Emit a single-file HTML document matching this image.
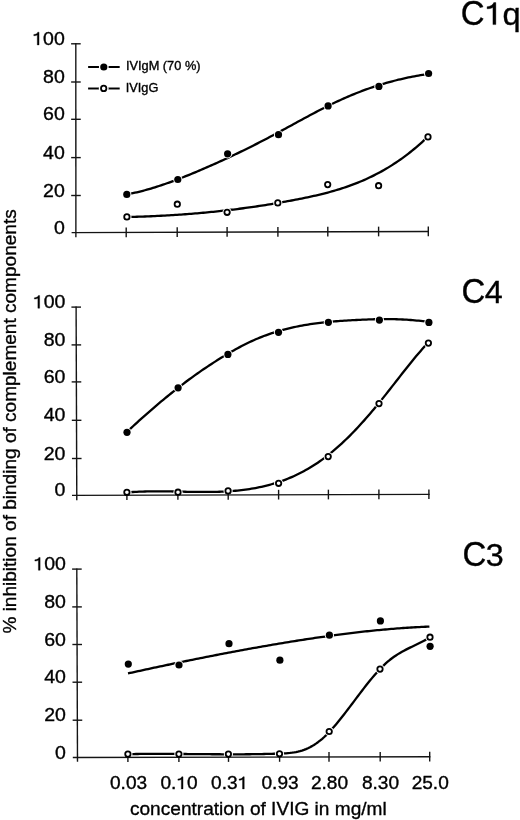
<!DOCTYPE html>
<html><head><meta charset="utf-8"><style>
html,body{margin:0;padding:0;background:#fff;}
body{width:520px;height:820px;overflow:hidden;}
svg{display:block;font-family:"Liberation Sans", sans-serif;will-change:transform;}
text{fill:#000;stroke:#000;stroke-width:0.35px;}
.one{fill:#000;stroke:#000;stroke-width:0.35px;vector-effect:non-scaling-stroke;}
</style></head><body>
<svg width="520" height="820" viewBox="0 0 520 820">
<path d="M126.80 194.32 L128.81 193.95 L130.82 193.56 L132.83 193.15 L134.85 192.71 L136.86 192.26 L138.87 191.78 L140.88 191.29 L142.89 190.77 L144.90 190.24 L146.91 189.69 L148.92 189.12 L150.94 188.53 L152.95 187.93 L154.96 187.31 L156.97 186.68 L158.98 186.03 L160.99 185.36 L163.00 184.68 L165.02 183.99 L167.03 183.28 L169.04 182.57 L171.05 181.84 L173.06 181.10 L175.07 180.34 L177.08 179.58 L179.09 178.81 L181.11 178.02 L183.12 177.23 L185.13 176.43 L187.14 175.62 L189.15 174.81 L191.16 173.99 L193.17 173.16 L195.19 172.32 L197.20 171.48 L199.21 170.63 L201.22 169.78 L203.23 168.92 L205.24 168.05 L207.25 167.18 L209.26 166.30 L211.28 165.41 L213.29 164.52 L215.30 163.63 L217.31 162.72 L219.32 161.81 L221.33 160.89 L223.34 159.97 L225.36 159.04 L227.37 158.11 L229.38 157.17 L231.39 156.22 L233.40 155.27 L235.41 154.31 L237.42 153.35 L239.43 152.37 L241.45 151.40 L243.46 150.41 L245.47 149.43 L247.48 148.43 L249.49 147.43 L251.50 146.42 L253.51 145.41 L255.53 144.39 L257.54 143.37 L259.55 142.34 L261.56 141.30 L263.57 140.26 L265.58 139.21 L267.59 138.16 L269.60 137.10 L271.62 136.03 L273.63 134.96 L275.64 133.88 L277.65 132.80 L279.66 131.72 L281.67 130.63 L283.68 129.53 L285.70 128.44 L287.71 127.34 L289.72 126.25 L291.73 125.15 L293.74 124.05 L295.75 122.95 L297.76 121.85 L299.77 120.76 L301.79 119.67 L303.80 118.58 L305.81 117.49 L307.82 116.41 L309.83 115.33 L311.84 114.26 L313.85 113.20 L315.87 112.14 L317.88 111.08 L319.89 110.04 L321.90 109.01 L323.91 107.98 L325.92 106.96 L327.93 105.96 L329.94 104.96 L331.96 103.98 L333.97 103.01 L335.98 102.05 L337.99 101.10 L340.00 100.17 L342.01 99.26 L344.02 98.35 L346.04 97.47 L348.05 96.60 L350.06 95.74 L352.07 94.90 L354.08 94.08 L356.09 93.27 L358.10 92.47 L360.11 91.70 L362.13 90.93 L364.14 90.18 L366.15 89.45 L368.16 88.73 L370.17 88.03 L372.18 87.34 L374.19 86.67 L376.21 86.01 L378.22 85.37 L380.23 84.74 L382.24 84.13 L384.25 83.53 L386.26 82.94 L388.27 82.37 L390.28 81.82 L392.30 81.28 L394.31 80.75 L396.32 80.24 L398.33 79.74 L400.34 79.26 L402.35 78.79 L404.36 78.34 L406.38 77.90 L408.39 77.48 L410.40 77.06 L412.41 76.67 L414.42 76.28 L416.43 75.92 L418.44 75.56 L420.45 75.22 L422.47 74.89 L424.48 74.58 L426.49 74.28 L428.50 74.00" fill="none" stroke="#000" stroke-width="2.30" stroke-linecap="butt" stroke-linejoin="round"/>
<path d="M126.90 217.05 L128.91 217.00 L130.92 216.95 L132.93 216.89 L134.93 216.83 L136.94 216.77 L138.95 216.70 L140.96 216.64 L142.97 216.56 L144.98 216.49 L146.99 216.41 L149.00 216.33 L151.00 216.24 L153.01 216.15 L155.02 216.06 L157.03 215.96 L159.04 215.86 L161.05 215.76 L163.06 215.66 L165.06 215.54 L167.07 215.43 L169.08 215.31 L171.09 215.19 L173.10 215.07 L175.11 214.94 L177.12 214.81 L179.13 214.67 L181.13 214.53 L183.14 214.39 L185.15 214.24 L187.16 214.09 L189.17 213.93 L191.18 213.78 L193.19 213.61 L195.19 213.45 L197.20 213.28 L199.21 213.10 L201.22 212.92 L203.23 212.74 L205.24 212.56 L207.25 212.37 L209.26 212.17 L211.26 211.97 L213.27 211.77 L215.28 211.56 L217.29 211.35 L219.30 211.14 L221.31 210.92 L223.32 210.70 L225.32 210.47 L227.33 210.24 L229.34 210.00 L231.35 209.76 L233.36 209.52 L235.37 209.27 L237.38 209.02 L239.39 208.76 L241.39 208.50 L243.40 208.24 L245.41 207.96 L247.42 207.69 L249.43 207.41 L251.44 207.13 L253.45 206.84 L255.45 206.55 L257.46 206.25 L259.47 205.95 L261.48 205.64 L263.49 205.33 L265.50 205.02 L267.51 204.70 L269.52 204.37 L271.52 204.05 L273.53 203.71 L275.54 203.37 L277.55 203.03 L279.56 202.68 L281.57 202.33 L283.58 201.97 L285.58 201.61 L287.59 201.24 L289.60 200.87 L291.61 200.50 L293.62 200.12 L295.63 199.73 L297.64 199.34 L299.65 198.94 L301.65 198.54 L303.66 198.13 L305.67 197.72 L307.68 197.29 L309.69 196.86 L311.70 196.42 L313.71 195.98 L315.71 195.52 L317.72 195.05 L319.73 194.57 L321.74 194.08 L323.75 193.57 L325.76 193.06 L327.77 192.53 L329.78 191.99 L331.78 191.43 L333.79 190.86 L335.80 190.27 L337.81 189.67 L339.82 189.04 L341.83 188.41 L343.84 187.75 L345.84 187.08 L347.85 186.38 L349.86 185.67 L351.87 184.94 L353.88 184.18 L355.89 183.41 L357.90 182.61 L359.91 181.79 L361.91 180.95 L363.92 180.08 L365.93 179.19 L367.94 178.27 L369.95 177.33 L371.96 176.36 L373.97 175.37 L375.97 174.35 L377.98 173.30 L379.99 172.22 L382.00 171.12 L384.01 169.98 L386.02 168.81 L388.03 167.62 L390.04 166.39 L392.04 165.13 L394.05 163.84 L396.06 162.51 L398.07 161.16 L400.08 159.76 L402.09 158.34 L404.10 156.87 L406.10 155.38 L408.11 153.84 L410.12 152.27 L412.13 150.66 L414.14 149.01 L416.15 147.33 L418.16 145.60 L420.17 143.83 L422.17 142.03 L424.18 140.18 L426.19 138.29 L428.20 136.36" fill="none" stroke="#000" stroke-width="2.30" stroke-linecap="butt" stroke-linejoin="round"/>
<path d="M127.00 431.89 L129.01 429.99 L131.02 428.11 L133.04 426.24 L135.05 424.39 L137.06 422.54 L139.07 420.72 L141.08 418.90 L143.10 417.10 L145.11 415.31 L147.12 413.53 L149.13 411.77 L151.14 410.02 L153.16 408.29 L155.17 406.56 L157.18 404.85 L159.19 403.16 L161.20 401.47 L163.22 399.80 L165.23 398.14 L167.24 396.49 L169.25 394.86 L171.26 393.24 L173.28 391.63 L175.29 390.04 L177.30 388.46 L179.31 386.90 L181.32 385.35 L183.34 383.81 L185.35 382.29 L187.36 380.78 L189.37 379.29 L191.38 377.82 L193.40 376.36 L195.41 374.92 L197.42 373.49 L199.43 372.08 L201.44 370.68 L203.46 369.31 L205.47 367.94 L207.48 366.59 L209.49 365.26 L211.50 363.94 L213.52 362.64 L215.53 361.35 L217.54 360.08 L219.55 358.83 L221.56 357.58 L223.58 356.36 L225.59 355.15 L227.60 353.95 L229.61 352.77 L231.62 351.60 L233.64 350.46 L235.65 349.33 L237.66 348.22 L239.67 347.13 L241.68 346.06 L243.70 345.02 L245.71 344.00 L247.72 343.00 L249.73 342.04 L251.74 341.10 L253.76 340.19 L255.77 339.31 L257.78 338.46 L259.79 337.63 L261.80 336.83 L263.82 336.05 L265.83 335.30 L267.84 334.58 L269.85 333.88 L271.86 333.20 L273.88 332.54 L275.89 331.91 L277.90 331.30 L279.91 330.71 L281.92 330.15 L283.94 329.60 L285.95 329.08 L287.96 328.57 L289.97 328.09 L291.98 327.62 L294.00 327.18 L296.01 326.75 L298.02 326.33 L300.03 325.94 L302.04 325.56 L304.06 325.20 L306.07 324.86 L308.08 324.53 L310.09 324.21 L312.10 323.91 L314.12 323.62 L316.13 323.35 L318.14 323.09 L320.15 322.84 L322.16 322.60 L324.18 322.38 L326.19 322.17 L328.20 321.96 L330.21 321.77 L332.22 321.59 L334.24 321.41 L336.25 321.25 L338.26 321.09 L340.27 320.94 L342.28 320.80 L344.30 320.67 L346.31 320.54 L348.32 320.42 L350.33 320.30 L352.34 320.19 L354.36 320.08 L356.37 319.98 L358.38 319.88 L360.39 319.79 L362.40 319.69 L364.42 319.61 L366.43 319.53 L368.44 319.45 L370.45 319.38 L372.46 319.32 L374.48 319.27 L376.49 319.22 L378.50 319.18 L380.51 319.15 L382.52 319.13 L384.54 319.11 L386.55 319.11 L388.56 319.12 L390.57 319.13 L392.58 319.16 L394.60 319.20 L396.61 319.25 L398.62 319.31 L400.63 319.39 L402.64 319.48 L404.66 319.58 L406.67 319.70 L408.68 319.83 L410.69 319.98 L412.70 320.14 L414.72 320.32 L416.73 320.52 L418.74 320.73 L420.75 320.95 L422.76 321.20 L424.78 321.46 L426.79 321.75 L428.80 322.05" fill="none" stroke="#000" stroke-width="2.30" stroke-linecap="butt" stroke-linejoin="round"/>
<path d="M126.90 492.47 L128.91 492.30 L130.92 492.15 L132.93 492.01 L134.94 491.89 L136.95 491.78 L138.96 491.69 L140.97 491.61 L142.97 491.54 L144.98 491.48 L146.99 491.43 L149.00 491.39 L151.01 491.36 L153.02 491.34 L155.03 491.33 L157.04 491.33 L159.05 491.33 L161.06 491.34 L163.07 491.35 L165.08 491.37 L167.09 491.40 L169.10 491.43 L171.11 491.46 L173.11 491.50 L175.12 491.54 L177.13 491.58 L179.14 491.62 L181.15 491.66 L183.16 491.70 L185.17 491.74 L187.18 491.78 L189.19 491.82 L191.20 491.85 L193.21 491.88 L195.22 491.91 L197.23 491.93 L199.24 491.95 L201.25 491.97 L203.25 491.97 L205.26 491.97 L207.27 491.97 L209.28 491.95 L211.29 491.93 L213.30 491.89 L215.31 491.85 L217.32 491.80 L219.33 491.73 L221.34 491.66 L223.35 491.57 L225.36 491.47 L227.37 491.36 L229.38 491.23 L231.39 491.09 L233.39 490.93 L235.40 490.76 L237.41 490.57 L239.42 490.36 L241.43 490.14 L243.44 489.89 L245.45 489.63 L247.46 489.35 L249.47 489.05 L251.48 488.73 L253.49 488.39 L255.50 488.03 L257.51 487.64 L259.52 487.23 L261.53 486.80 L263.53 486.34 L265.54 485.86 L267.55 485.35 L269.56 484.82 L271.57 484.26 L273.58 483.67 L275.59 483.06 L277.60 482.42 L279.61 481.74 L281.62 481.04 L283.63 480.31 L285.64 479.55 L287.65 478.75 L289.66 477.93 L291.67 477.07 L293.67 476.18 L295.68 475.25 L297.69 474.29 L299.70 473.30 L301.71 472.27 L303.72 471.20 L305.73 470.10 L307.74 468.96 L309.75 467.78 L311.76 466.56 L313.77 465.30 L315.78 464.01 L317.79 462.67 L319.80 461.29 L321.81 459.87 L323.81 458.41 L325.82 456.91 L327.83 455.36 L329.84 453.77 L331.85 452.13 L333.86 450.45 L335.87 448.73 L337.88 446.97 L339.89 445.17 L341.90 443.33 L343.91 441.45 L345.92 439.53 L347.93 437.57 L349.94 435.57 L351.95 433.54 L353.95 431.47 L355.96 429.37 L357.97 427.23 L359.98 425.06 L361.99 422.85 L364.00 420.62 L366.01 418.35 L368.02 416.05 L370.03 413.72 L372.04 411.36 L374.05 408.97 L376.06 406.55 L378.07 404.11 L380.08 401.64 L382.09 399.14 L384.09 396.63 L386.10 394.09 L388.11 391.54 L390.12 388.98 L392.13 386.41 L394.14 383.84 L396.15 381.26 L398.16 378.68 L400.17 376.11 L402.18 373.55 L404.19 371.00 L406.20 368.46 L408.21 365.94 L410.22 363.44 L412.23 360.97 L414.23 358.52 L416.24 356.11 L418.25 353.73 L420.26 351.39 L422.27 349.08 L424.28 346.83 L426.29 344.61 L428.30 342.46" fill="none" stroke="#000" stroke-width="2.30" stroke-linecap="butt" stroke-linejoin="round"/>
<path d="M128.00 673.42 L130.01 672.98 L132.02 672.53 L134.03 672.09 L136.04 671.65 L138.05 671.21 L140.06 670.77 L142.07 670.34 L144.07 669.90 L146.08 669.46 L148.09 669.03 L150.10 668.60 L152.11 668.17 L154.12 667.73 L156.13 667.30 L158.14 666.88 L160.15 666.45 L162.16 666.02 L164.17 665.60 L166.18 665.17 L168.19 664.75 L170.20 664.33 L172.21 663.91 L174.21 663.49 L176.22 663.07 L178.23 662.66 L180.24 662.24 L182.25 661.83 L184.26 661.41 L186.27 661.00 L188.28 660.59 L190.29 660.18 L192.30 659.78 L194.31 659.37 L196.32 658.96 L198.33 658.56 L200.34 658.16 L202.35 657.76 L204.35 657.36 L206.36 656.96 L208.37 656.57 L210.38 656.17 L212.39 655.78 L214.40 655.39 L216.41 655.00 L218.42 654.61 L220.43 654.22 L222.44 653.83 L224.45 653.45 L226.46 653.07 L228.47 652.69 L230.48 652.31 L232.49 651.93 L234.49 651.55 L236.50 651.18 L238.51 650.80 L240.52 650.43 L242.53 650.06 L244.54 649.69 L246.55 649.33 L248.56 648.96 L250.57 648.60 L252.58 648.24 L254.59 647.88 L256.60 647.52 L258.61 647.16 L260.62 646.81 L262.63 646.46 L264.63 646.11 L266.64 645.76 L268.65 645.41 L270.66 645.06 L272.67 644.72 L274.68 644.38 L276.69 644.04 L278.70 643.70 L280.71 643.36 L282.72 643.03 L284.73 642.70 L286.74 642.37 L288.75 642.04 L290.76 641.71 L292.77 641.39 L294.77 641.07 L296.78 640.75 L298.79 640.43 L300.80 640.12 L302.81 639.80 L304.82 639.49 L306.83 639.18 L308.84 638.88 L310.85 638.57 L312.86 638.27 L314.87 637.98 L316.88 637.68 L318.89 637.39 L320.90 637.10 L322.91 636.81 L324.91 636.53 L326.92 636.24 L328.93 635.97 L330.94 635.69 L332.95 635.42 L334.96 635.15 L336.97 634.88 L338.98 634.62 L340.99 634.35 L343.00 634.10 L345.01 633.84 L347.02 633.59 L349.03 633.34 L351.04 633.10 L353.05 632.86 L355.05 632.62 L357.06 632.38 L359.07 632.15 L361.08 631.92 L363.09 631.70 L365.10 631.48 L367.11 631.26 L369.12 631.05 L371.13 630.84 L373.14 630.63 L375.15 630.43 L377.16 630.23 L379.17 630.04 L381.18 629.85 L383.19 629.66 L385.19 629.48 L387.20 629.30 L389.21 629.13 L391.22 628.96 L393.23 628.79 L395.24 628.63 L397.25 628.47 L399.26 628.32 L401.27 628.17 L403.28 628.02 L405.29 627.88 L407.30 627.75 L409.31 627.62 L411.32 627.49 L413.33 627.37 L415.33 627.25 L417.34 627.14 L419.35 627.03 L421.36 626.93 L423.37 626.83 L425.38 626.73 L427.39 626.64 L429.40 626.56" fill="none" stroke="#000" stroke-width="2.30" stroke-linecap="butt" stroke-linejoin="round"/>
<path d="M127.90 754.14 L129.90 754.10 L131.90 754.06 L133.90 754.03 L135.90 754.00 L137.90 753.98 L139.90 753.96 L141.90 753.94 L143.91 753.92 L145.91 753.91 L147.91 753.90 L149.91 753.89 L151.91 753.88 L153.91 753.87 L155.91 753.87 L157.91 753.87 L159.91 753.87 L161.91 753.87 L163.91 753.88 L165.91 753.88 L167.91 753.89 L169.91 753.90 L171.91 753.91 L173.92 753.92 L175.92 753.93 L177.92 753.95 L179.92 753.96 L181.92 753.98 L183.92 753.99 L185.92 754.01 L187.92 754.03 L189.92 754.04 L191.92 754.06 L193.92 754.08 L195.92 754.10 L197.92 754.11 L199.92 754.13 L201.92 754.15 L203.93 754.16 L205.93 754.18 L207.93 754.20 L209.93 754.21 L211.93 754.23 L213.93 754.24 L215.93 754.25 L217.93 754.26 L219.93 754.27 L221.93 754.28 L223.93 754.29 L225.93 754.30 L227.93 754.30 L229.93 754.31 L231.93 754.31 L233.94 754.31 L235.94 754.31 L237.94 754.30 L239.94 754.29 L241.94 754.29 L243.94 754.28 L245.94 754.26 L247.94 754.25 L249.94 754.23 L251.94 754.21 L253.94 754.18 L255.94 754.15 L257.94 754.12 L259.94 754.09 L261.94 754.05 L263.95 754.01 L265.95 753.97 L267.95 753.92 L269.95 753.87 L271.95 753.82 L273.95 753.76 L275.95 753.70 L277.95 753.63 L279.95 753.56 L281.95 753.48 L283.95 753.39 L285.95 753.28 L287.95 753.13 L289.95 752.95 L291.95 752.72 L293.95 752.43 L295.96 752.07 L297.96 751.65 L299.96 751.14 L301.96 750.55 L303.96 749.86 L305.96 749.08 L307.96 748.19 L309.96 747.20 L311.96 746.12 L313.96 744.92 L315.96 743.61 L317.96 742.20 L319.96 740.67 L321.96 739.02 L323.96 737.26 L325.97 735.37 L327.97 733.38 L329.97 731.28 L331.97 729.09 L333.97 726.82 L335.97 724.47 L337.97 722.06 L339.97 719.59 L341.97 717.07 L343.97 714.51 L345.97 711.92 L347.97 709.30 L349.97 706.66 L351.97 704.00 L353.97 701.34 L355.98 698.68 L357.98 696.02 L359.98 693.37 L361.98 690.75 L363.98 688.15 L365.98 685.58 L367.98 683.05 L369.98 680.57 L371.98 678.14 L373.98 675.77 L375.98 673.47 L377.98 671.24 L379.98 669.09 L381.98 667.03 L383.98 665.06 L385.99 663.19 L387.99 661.43 L389.99 659.78 L391.99 658.23 L393.99 656.79 L395.99 655.43 L397.99 654.14 L399.99 652.93 L401.99 651.79 L403.99 650.69 L405.99 649.64 L407.99 648.62 L409.99 647.63 L411.99 646.66 L413.99 645.70 L416.00 644.74 L418.00 643.77 L420.00 642.78 L422.00 641.77 L424.00 640.72 L426.00 639.63 L428.00 638.48 L430.00 637.28" fill="none" stroke="#000" stroke-width="2.30" stroke-linecap="butt" stroke-linejoin="round"/>
<circle cx="126.80" cy="194.40" r="4.60" fill="#fff"/>
<circle cx="177.80" cy="179.50" r="4.60" fill="#fff"/>
<circle cx="227.60" cy="153.80" r="4.60" fill="#fff"/>
<circle cx="278.50" cy="134.70" r="4.60" fill="#fff"/>
<circle cx="328.10" cy="105.90" r="4.60" fill="#fff"/>
<circle cx="378.90" cy="86.40" r="4.60" fill="#fff"/>
<circle cx="428.60" cy="73.50" r="4.60" fill="#fff"/>
<circle cx="126.90" cy="216.90" r="4.60" fill="#fff"/>
<circle cx="177.30" cy="204.20" r="4.60" fill="#fff"/>
<circle cx="227.10" cy="212.30" r="4.60" fill="#fff"/>
<circle cx="277.80" cy="202.90" r="4.60" fill="#fff"/>
<circle cx="327.70" cy="184.60" r="4.60" fill="#fff"/>
<circle cx="378.60" cy="185.70" r="4.60" fill="#fff"/>
<circle cx="428.00" cy="136.90" r="4.60" fill="#fff"/>
<circle cx="127.00" cy="432.30" r="4.60" fill="#fff"/>
<circle cx="178.10" cy="387.80" r="4.60" fill="#fff"/>
<circle cx="227.90" cy="354.40" r="4.60" fill="#fff"/>
<circle cx="278.50" cy="332.30" r="4.60" fill="#fff"/>
<circle cx="328.40" cy="322.30" r="4.60" fill="#fff"/>
<circle cx="379.40" cy="320.10" r="4.60" fill="#fff"/>
<circle cx="428.90" cy="322.40" r="4.60" fill="#fff"/>
<circle cx="126.90" cy="492.30" r="4.60" fill="#fff"/>
<circle cx="178.00" cy="492.20" r="4.60" fill="#fff"/>
<circle cx="228.10" cy="490.90" r="4.60" fill="#fff"/>
<circle cx="278.60" cy="483.30" r="4.60" fill="#fff"/>
<circle cx="328.20" cy="456.60" r="4.60" fill="#fff"/>
<circle cx="379.00" cy="403.60" r="4.60" fill="#fff"/>
<circle cx="428.40" cy="343.10" r="4.60" fill="#fff"/>
<circle cx="128.30" cy="664.10" r="4.60" fill="#fff"/>
<circle cx="179.00" cy="665.00" r="4.60" fill="#fff"/>
<circle cx="229.00" cy="643.70" r="4.60" fill="#fff"/>
<circle cx="279.90" cy="660.20" r="4.60" fill="#fff"/>
<circle cx="329.40" cy="635.20" r="4.60" fill="#fff"/>
<circle cx="380.40" cy="620.90" r="4.60" fill="#fff"/>
<circle cx="430.10" cy="646.30" r="4.60" fill="#fff"/>
<circle cx="127.90" cy="754.10" r="4.60" fill="#fff"/>
<circle cx="178.90" cy="754.10" r="4.60" fill="#fff"/>
<circle cx="228.40" cy="754.10" r="4.60" fill="#fff"/>
<circle cx="279.50" cy="753.80" r="4.60" fill="#fff"/>
<circle cx="329.20" cy="731.50" r="4.60" fill="#fff"/>
<circle cx="380.00" cy="669.10" r="4.60" fill="#fff"/>
<circle cx="430.00" cy="637.20" r="4.60" fill="#fff"/>
<line x1="75.80" y1="43.10" x2="75.90" y2="237.30" stroke="#141414" stroke-width="1.40"/>
<line x1="71.10" y1="43.80" x2="80.70" y2="43.80" stroke="#141414" stroke-width="1.40"/>
<line x1="71.12" y1="82.00" x2="80.72" y2="82.00" stroke="#141414" stroke-width="1.40"/>
<line x1="71.14" y1="119.30" x2="80.74" y2="119.30" stroke="#141414" stroke-width="1.40"/>
<line x1="71.16" y1="157.60" x2="80.76" y2="157.60" stroke="#141414" stroke-width="1.40"/>
<line x1="71.18" y1="195.50" x2="80.78" y2="195.50" stroke="#141414" stroke-width="1.40"/>
<line x1="71.60" y1="232.60" x2="429.00" y2="231.50" stroke="#141414" stroke-width="1.40"/>
<line x1="126.20" y1="227.43" x2="126.20" y2="237.13" stroke="#141414" stroke-width="1.40"/>
<line x1="177.20" y1="227.27" x2="177.20" y2="236.97" stroke="#141414" stroke-width="1.40"/>
<line x1="227.10" y1="227.12" x2="227.10" y2="236.82" stroke="#141414" stroke-width="1.40"/>
<line x1="277.90" y1="226.96" x2="277.90" y2="236.66" stroke="#141414" stroke-width="1.40"/>
<line x1="327.80" y1="226.81" x2="327.80" y2="236.51" stroke="#141414" stroke-width="1.40"/>
<line x1="378.60" y1="226.65" x2="378.60" y2="236.35" stroke="#141414" stroke-width="1.40"/>
<line x1="428.30" y1="226.50" x2="428.30" y2="236.20" stroke="#141414" stroke-width="1.40"/>
<text transform="translate(32.20 44.95) scale(1.0500 1)" font-size="18.60"> 00</text>
<path class="one" transform="translate(32.20 44.95) scale(0.00954 -0.00908)" d="M532 0L717 0L717 1409L585 1409C545 1265 390 1165 165 1150L165 1010C330 1012 445 1040 532 1095Z"/>
<text transform="translate(43.06 83.15) scale(1.0500 1)" font-size="18.60">80</text>
<text transform="translate(43.06 120.45) scale(1.0500 1)" font-size="18.60">60</text>
<text transform="translate(43.06 158.75) scale(1.0500 1)" font-size="18.60">40</text>
<text transform="translate(43.06 196.65) scale(1.0500 1)" font-size="18.60">20</text>
<text transform="translate(53.92 233.75) scale(1.0500 1)" font-size="18.60">0</text>
<line x1="76.10" y1="306.40" x2="76.80" y2="500.20" stroke="#141414" stroke-width="1.40"/>
<line x1="71.40" y1="307.10" x2="81.00" y2="307.10" stroke="#141414" stroke-width="1.40"/>
<line x1="71.54" y1="344.90" x2="81.14" y2="344.90" stroke="#141414" stroke-width="1.40"/>
<line x1="71.67" y1="381.90" x2="81.27" y2="381.90" stroke="#141414" stroke-width="1.40"/>
<line x1="71.81" y1="420.30" x2="81.41" y2="420.30" stroke="#141414" stroke-width="1.40"/>
<line x1="71.95" y1="458.50" x2="81.55" y2="458.50" stroke="#141414" stroke-width="1.40"/>
<line x1="72.00" y1="495.40" x2="429.60" y2="494.40" stroke="#141414" stroke-width="1.40"/>
<line x1="126.90" y1="490.25" x2="126.90" y2="499.95" stroke="#141414" stroke-width="1.40"/>
<line x1="177.90" y1="490.10" x2="177.90" y2="499.80" stroke="#141414" stroke-width="1.40"/>
<line x1="228.20" y1="489.96" x2="228.20" y2="499.66" stroke="#141414" stroke-width="1.40"/>
<line x1="278.60" y1="489.82" x2="278.60" y2="499.52" stroke="#141414" stroke-width="1.40"/>
<line x1="328.40" y1="489.68" x2="328.40" y2="499.38" stroke="#141414" stroke-width="1.40"/>
<line x1="378.90" y1="489.54" x2="378.90" y2="499.24" stroke="#141414" stroke-width="1.40"/>
<line x1="428.90" y1="489.40" x2="428.90" y2="499.10" stroke="#141414" stroke-width="1.40"/>
<text transform="translate(32.80 308.25) scale(1.0500 1)" font-size="18.60"> 00</text>
<path class="one" transform="translate(32.80 308.25) scale(0.00954 -0.00908)" d="M532 0L717 0L717 1409L585 1409C545 1265 390 1165 165 1150L165 1010C330 1012 445 1040 532 1095Z"/>
<text transform="translate(43.66 346.05) scale(1.0500 1)" font-size="18.60">80</text>
<text transform="translate(43.66 383.05) scale(1.0500 1)" font-size="18.60">60</text>
<text transform="translate(43.66 421.45) scale(1.0500 1)" font-size="18.60">40</text>
<text transform="translate(43.66 459.65) scale(1.0500 1)" font-size="18.60">20</text>
<text transform="translate(54.52 496.45) scale(1.0500 1)" font-size="18.60">0</text>
<line x1="76.80" y1="568.40" x2="77.50" y2="761.80" stroke="#141414" stroke-width="1.40"/>
<line x1="72.10" y1="569.10" x2="81.70" y2="569.10" stroke="#141414" stroke-width="1.40"/>
<line x1="72.24" y1="606.90" x2="81.84" y2="606.90" stroke="#141414" stroke-width="1.40"/>
<line x1="72.38" y1="644.50" x2="81.98" y2="644.50" stroke="#141414" stroke-width="1.40"/>
<line x1="72.51" y1="682.20" x2="82.11" y2="682.20" stroke="#141414" stroke-width="1.40"/>
<line x1="72.65" y1="720.20" x2="82.25" y2="720.20" stroke="#141414" stroke-width="1.40"/>
<line x1="72.80" y1="757.50" x2="430.40" y2="756.80" stroke="#141414" stroke-width="1.40"/>
<line x1="127.90" y1="752.39" x2="127.90" y2="762.09" stroke="#141414" stroke-width="1.40"/>
<line x1="178.90" y1="752.29" x2="178.90" y2="761.99" stroke="#141414" stroke-width="1.40"/>
<line x1="228.50" y1="752.19" x2="228.50" y2="761.89" stroke="#141414" stroke-width="1.40"/>
<line x1="279.60" y1="752.09" x2="279.60" y2="761.79" stroke="#141414" stroke-width="1.40"/>
<line x1="329.00" y1="752.00" x2="329.00" y2="761.70" stroke="#141414" stroke-width="1.40"/>
<line x1="380.20" y1="751.90" x2="380.20" y2="761.60" stroke="#141414" stroke-width="1.40"/>
<line x1="429.70" y1="751.80" x2="429.70" y2="761.50" stroke="#141414" stroke-width="1.40"/>
<text transform="translate(33.30 570.25) scale(1.0500 1)" font-size="18.60"> 00</text>
<path class="one" transform="translate(33.30 570.25) scale(0.00954 -0.00908)" d="M532 0L717 0L717 1409L585 1409C545 1265 390 1165 165 1150L165 1010C330 1012 445 1040 532 1095Z"/>
<text transform="translate(44.16 608.05) scale(1.0500 1)" font-size="18.60">80</text>
<text transform="translate(44.16 645.65) scale(1.0500 1)" font-size="18.60">60</text>
<text transform="translate(44.16 683.35) scale(1.0500 1)" font-size="18.60">40</text>
<text transform="translate(44.16 721.35) scale(1.0500 1)" font-size="18.60">20</text>
<text transform="translate(55.02 758.55) scale(1.0500 1)" font-size="18.60">0</text>
<circle cx="126.80" cy="194.40" r="3.60" fill="#000"/>
<circle cx="177.80" cy="179.50" r="3.60" fill="#000"/>
<circle cx="227.60" cy="153.80" r="3.60" fill="#000"/>
<circle cx="278.50" cy="134.70" r="3.60" fill="#000"/>
<circle cx="328.10" cy="105.90" r="3.60" fill="#000"/>
<circle cx="378.90" cy="86.40" r="3.60" fill="#000"/>
<circle cx="428.60" cy="73.50" r="3.60" fill="#000"/>
<circle cx="126.90" cy="216.90" r="2.70" fill="#fff" stroke="#000" stroke-width="1.80"/>
<circle cx="177.30" cy="204.20" r="2.70" fill="#fff" stroke="#000" stroke-width="1.80"/>
<circle cx="227.10" cy="212.30" r="2.70" fill="#fff" stroke="#000" stroke-width="1.80"/>
<circle cx="277.80" cy="202.90" r="2.70" fill="#fff" stroke="#000" stroke-width="1.80"/>
<circle cx="327.70" cy="184.60" r="2.70" fill="#fff" stroke="#000" stroke-width="1.80"/>
<circle cx="378.60" cy="185.70" r="2.70" fill="#fff" stroke="#000" stroke-width="1.80"/>
<circle cx="428.00" cy="136.90" r="2.70" fill="#fff" stroke="#000" stroke-width="1.80"/>
<circle cx="127.00" cy="432.30" r="3.60" fill="#000"/>
<circle cx="178.10" cy="387.80" r="3.60" fill="#000"/>
<circle cx="227.90" cy="354.40" r="3.60" fill="#000"/>
<circle cx="278.50" cy="332.30" r="3.60" fill="#000"/>
<circle cx="328.40" cy="322.30" r="3.60" fill="#000"/>
<circle cx="379.40" cy="320.10" r="3.60" fill="#000"/>
<circle cx="428.90" cy="322.40" r="3.60" fill="#000"/>
<circle cx="126.90" cy="492.30" r="2.70" fill="#fff" stroke="#000" stroke-width="1.80"/>
<circle cx="178.00" cy="492.20" r="2.70" fill="#fff" stroke="#000" stroke-width="1.80"/>
<circle cx="228.10" cy="490.90" r="2.70" fill="#fff" stroke="#000" stroke-width="1.80"/>
<circle cx="278.60" cy="483.30" r="2.70" fill="#fff" stroke="#000" stroke-width="1.80"/>
<circle cx="328.20" cy="456.60" r="2.70" fill="#fff" stroke="#000" stroke-width="1.80"/>
<circle cx="379.00" cy="403.60" r="2.70" fill="#fff" stroke="#000" stroke-width="1.80"/>
<circle cx="428.40" cy="343.10" r="2.70" fill="#fff" stroke="#000" stroke-width="1.80"/>
<circle cx="128.30" cy="664.10" r="3.60" fill="#000"/>
<circle cx="179.00" cy="665.00" r="3.60" fill="#000"/>
<circle cx="229.00" cy="643.70" r="3.60" fill="#000"/>
<circle cx="279.90" cy="660.20" r="3.60" fill="#000"/>
<circle cx="329.40" cy="635.20" r="3.60" fill="#000"/>
<circle cx="380.40" cy="620.90" r="3.60" fill="#000"/>
<circle cx="430.10" cy="646.30" r="3.60" fill="#000"/>
<circle cx="127.90" cy="754.10" r="2.70" fill="#fff" stroke="#000" stroke-width="1.80"/>
<circle cx="178.90" cy="754.10" r="2.70" fill="#fff" stroke="#000" stroke-width="1.80"/>
<circle cx="228.40" cy="754.10" r="2.70" fill="#fff" stroke="#000" stroke-width="1.80"/>
<circle cx="279.50" cy="753.80" r="2.70" fill="#fff" stroke="#000" stroke-width="1.80"/>
<circle cx="329.20" cy="731.50" r="2.70" fill="#fff" stroke="#000" stroke-width="1.80"/>
<circle cx="380.00" cy="669.10" r="2.70" fill="#fff" stroke="#000" stroke-width="1.80"/>
<circle cx="430.00" cy="637.20" r="2.70" fill="#fff" stroke="#000" stroke-width="1.80"/>
<line x1="88.10" y1="67.00" x2="119.70" y2="67.00" stroke="#000" stroke-width="1.95"/>
<line x1="88.10" y1="88.50" x2="119.70" y2="88.50" stroke="#000" stroke-width="1.95"/>
<circle cx="103.8" cy="67.0" r="4.90" fill="#fff"/>
<circle cx="103.7" cy="88.4" r="4.90" fill="#fff"/>
<circle cx="103.80" cy="67.00" r="3.60" fill="#000"/>
<circle cx="103.70" cy="88.40" r="2.70" fill="#fff" stroke="#000" stroke-width="1.80"/>
<text transform="translate(125.95 70.30) scale(1.0400 1)" font-size="12.30">IVIgM (70 %)</text>
<text transform="translate(125.75 91.60) scale(1.0400 1)" font-size="12.30">IVIgG</text>
<text transform="translate(460.85 24.60) scale(0.9600 1)" font-size="34.40">C</text>
<text transform="translate(484.44 24.60) scale(1.0200 1)" font-size="32.00"> q</text>
<path class="one" transform="translate(484.44 24.60) scale(0.01594 -0.01562)" d="M532 0L717 0L717 1409L585 1409C545 1265 390 1165 165 1150L165 1010C330 1012 445 1040 532 1095Z"/>
<text transform="translate(461.45 303.30) scale(0.9600 1)" font-size="34.40">C</text>
<text transform="translate(484.82 303.30) scale(1.0100 1)" font-size="32.00">4</text>
<text transform="translate(462.45 566.00) scale(0.9600 1)" font-size="34.40">C</text>
<text transform="translate(485.82 566.00) scale(1.0100 1)" font-size="32.00">3</text>
<text transform="translate(109.98 788.90) scale(1.0850 1)" font-size="17.60">0.03</text>
<text transform="translate(160.43 788.90) scale(1.0850 1)" font-size="17.60">0. 0</text>
<path class="one" transform="translate(176.35 788.90) scale(0.00932 -0.00859)" d="M532 0L717 0L717 1409L585 1409C545 1265 390 1165 165 1150L165 1010C330 1012 445 1040 532 1095Z"/>
<text transform="translate(211.02 788.90) scale(1.0850 1)" font-size="17.60">0.3 </text>
<path class="one" transform="translate(237.57 788.90) scale(0.00932 -0.00859)" d="M532 0L717 0L717 1409L585 1409C545 1265 390 1165 165 1150L165 1010C330 1012 445 1040 532 1095Z"/>
<text transform="translate(261.48 788.90) scale(1.0850 1)" font-size="17.60">0.93</text>
<text transform="translate(310.93 788.90) scale(1.0850 1)" font-size="17.60">2.80</text>
<text transform="translate(361.88 788.90) scale(1.0850 1)" font-size="17.60">8.30</text>
<text transform="translate(411.63 788.90) scale(1.0850 1)" font-size="17.60">25.0</text>
<text x="129.94" y="814.60" font-size="19.10">concentration of IVIG in mg/ml</text>
<text transform="translate(15.7 633.57) rotate(-90) scale(0.9970 1)" font-size="19.10">% inhibition of binding of complement components</text>
</svg>
</body></html>
